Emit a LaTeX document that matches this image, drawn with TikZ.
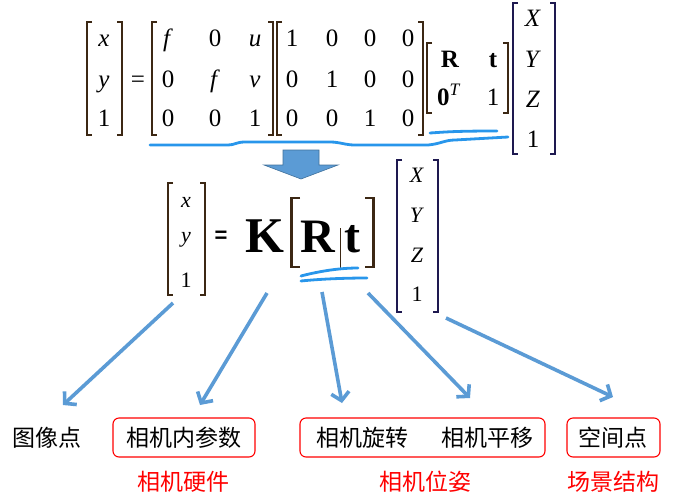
\documentclass[tikz,border=0pt]{standalone}
\usepackage{fontspec}
\setmainfont{Liberation Serif}
\newfontfamily\cjk{Noto Sans CJK SC}
\newfontfamily\sansf{Liberation Sans}
\usetikzlibrary{arrows.meta}
\definecolor{brkA}{RGB}{60,40,20}
\definecolor{brkB}{RGB}{30,25,80}
\definecolor{ulblue}{RGB}{40,150,235}
\definecolor{arrblue}{RGB}{91,155,213}
\definecolor{arrdark}{RGB}{65,113,156}
\newcommand\brpair[5]{%
  \draw[#5] (#1+5,#3) -- (#1,#3) -- (#1,#4) -- (#1+5,#4);
  \draw[#5] (#2-5,#3) -- (#2,#3) -- (#2,#4) -- (#2-5,#4);}
\begin{document}
\begin{tikzpicture}[x=1pt,y=-1pt,
  every node/.style={inner sep=0pt},
  ent/.style={anchor=base,font=\fontsize{25}{25}\selectfont},
  entb/.style={anchor=base,font=\fontsize{22}{22}\selectfont},
  brk/.style={line width=1.1pt},
  ul/.style={ulblue,line width=2.8pt,line cap=round},
  arr/.style={arrblue,line width=3.6pt,-{Straight Barb[length=8pt,width=18pt]}},
  redbox/.style={draw=red,line width=1.1pt,rounded corners=6pt,minimum height=39pt},
  cn/.style={font=\cjk\fontsize{23}{23}\selectfont,text=black},
  cnred/.style={font=\cjk\fontsize{23}{23}\selectfont,text=red}]
\useasboundingbox (0,0) rectangle (674,501);

% ---------- top equation ----------
\brpair{87}{122}{22}{135}{brk,brkA}
\node[ent] (tx) at (104,46) {\textit{x}};
\node[ent] (ty) at (104,87) {\textit{y}};
\node[ent] (t1) at (104,126) {1};
\node[ent] (teq) at (138,87) {=};

\brpair{152}{273}{22}{135}{brk,brkA}
\node[ent] (k11) at (168,46) {\textit{f}};
\node[ent] (k12) at (215,46) {0};
\node[ent] (k13) at (255,46) {\textit{u}};
\node[ent] (k21) at (168,87) {0};
\node[ent] (k22) at (215,87) {\textit{f}};
\node[ent] (k23) at (255,87) {\textit{v}};
\node[ent] (k31) at (168,126) {0};
\node[ent] (k32) at (215,126) {0};
\node[ent] (k33) at (255,126) {1};

\brpair{277}{423}{22}{135}{brk,brkA}
\node[ent] (p11) at (292,46) {1};
\node[ent] (p12) at (332,46) {0};
\node[ent] (p13) at (370,46) {0};
\node[ent] (p14) at (408,46) {0};
\node[ent] (p21) at (292,87) {0};
\node[ent] (p22) at (332,87) {1};
\node[ent] (p23) at (370,87) {0};
\node[ent] (p24) at (408,87) {0};
\node[ent] (p31) at (292,126) {0};
\node[ent] (p32) at (332,126) {0};
\node[ent] (p33) at (370,126) {1};
\node[ent] (p34) at (408,126) {0};

\brpair{427}{508}{43}{113}{brk,brkA}
\node[ent] (rR) at (450,67) {\textbf{R}};
\node[ent] (rt) at (493,67) {\textbf{t}};
\node[ent] (r0) at (449,105) {\textbf{0}\textsuperscript{\textit{T}}};
\node[ent] (r1) at (493,105) {1};

\brpair{513}{555}{3}{154}{brk,brkB}
\node[ent] (wX) at (533,26) {\textit{X}};
\node[ent] (wY) at (533,67) {\textit{Y}};
\node[ent] (wZ) at (533,107) {\textit{Z}};
\node[ent] (w1) at (533,147) {1};

% hand-drawn underlines
\draw[ul] (150,145) -- (228,145) .. controls (235,145) and (236,142) .. (245,142)
  -- (330,142) .. controls (340,142) and (345,145) .. (355,145) -- (428,145)
  .. controls (440,144) and (445,140) .. (455,140) -- (508,137);
\draw[ul] (430,133) .. controls (445,132) and (455,131) .. (497,131);

% block arrow
\draw[fill=arrblue,draw=arrdark,line width=0.6pt]
  (283,150) -- (319,150) -- (319,165) -- (338,165) -- (301,179)
  -- (264,165) -- (283,165) -- cycle;

% ---------- second equation ----------
\brpair{168}{205}{183}{295}{brk,brkA}
\node[entb] (sx) at (186,207) {\textit{x}};
\node[entb] (sy) at (186,242) {\textit{y}};
\node[entb] (s1) at (186,287) {1};
\node[anchor=base,font=\sansf\bfseries\fontsize{22}{22}\selectfont] (seq) at (221,242) {=};
\node[anchor=base,font=\bfseries\fontsize{50}{50}\selectfont] (bK) at (265,252) {K};
\draw[brkA,line width=2.6pt] (300,198) -- (291.5,198) -- (291.5,267) -- (300,267);
\node[anchor=base,font=\bfseries\fontsize{48}{48}\selectfont] (bR) at (318,252) {R};
\draw[brkA,line width=0.8pt] (340,228) -- (340,268);
\node[anchor=base,font=\bfseries\fontsize{48}{48}\selectfont] (bt) at (352.5,252) {t};
\draw[brkA,line width=2.6pt] (365,198) -- (373.5,198) -- (373.5,267) -- (365,267);

\draw[ul] (301,276) .. controls (320,271) and (340,268) .. (358,268);
\draw[ul] (301,281) .. controls (320,279) and (345,278) .. (367,278);

\brpair{397}{438}{160}{312}{brk,brkB}
\node[entb] (sX) at (417,182) {\textit{X}};
\node[entb] (sY) at (417,222) {\textit{Y}};
\node[entb] (sZ) at (417,262) {\textit{Z}};
\node[entb] (s1b) at (417,301) {1};

% ---------- arrows ----------
\coordinate (a1s) at (173,303); \coordinate (a1e) at (63,405);
\coordinate (a2s) at (267,293); \coordinate (a2e) at (200,405);
\coordinate (a3s) at (322,292); \coordinate (a3e) at (342,403);
\coordinate (a4s) at (368,293); \coordinate (a4e) at (470,398);
\coordinate (a5s) at (446,318); \coordinate (a5e) at (613,397);
\draw[arr] (a1s) -- (a1e);
\draw[arr] (a2s) -- (a2e);
\draw[arr] (a3s) -- (a3e);
\draw[arr] (a4s) -- (a4e);
\draw[arr] (a5s) -- (a5e);

% ---------- labels ----------
\node[cn] (img) at (47,438) {图像点};
\node[redbox,minimum width=142pt] (box1) at (184,437.5) {};
\node[cn] (intr) at (184,438) {相机内参数};
\node[redbox,minimum width=245pt] (box2) at (422.5,437.5) {};
\node[cn] (rot) at (362,438) {相机旋转};
\node[cn] (trans) at (487,438) {相机平移};
\node[redbox,minimum width=93pt] (box3) at (613.5,437.5) {};
\node[cn] (pt) at (613,438) {空间点};
\node[cnred] (hw) at (183,482) {相机硬件};
\node[cnred] (pose) at (425,482) {相机位姿};
\node[cnred] (scene) at (613,482) {场景结构};
\end{tikzpicture}
\end{document}
